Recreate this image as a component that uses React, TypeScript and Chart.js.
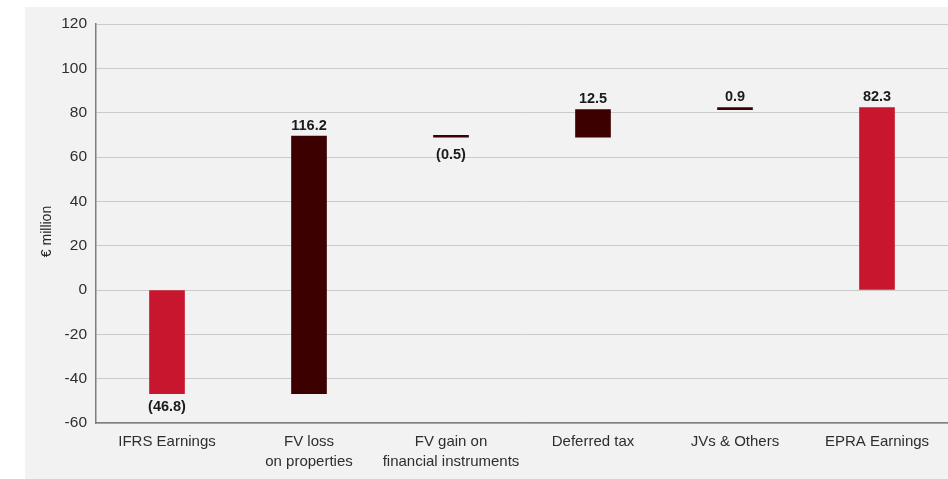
import React, { useEffect, useRef } from "react";
import { Chart, registerables } from "chart.js";

Chart.register(...registerables);

// Bridge from IFRS earnings to EPRA earnings, € million
const categories: (string | string[])[] = [
  "IFRS Earnings",
  ["FV loss", "on properties"],
  ["FV gain on", "financial instruments"],
  "Deferred tax",
  "JVs & Others",
  "EPRA Earnings",
];
const movements: number[] = [-46.8, 116.2, -0.5, 12.5, 0.9, 82.3];
// true = bar drawn from zero (a total), false = step from the running total
const isTotal: boolean[] = [true, false, false, false, false, true];
const yTicks: number[] = [-60, -40, -20, 0, 20, 40, 60, 80, 100, 120];

const RED = "rgb(200,22,46)";
const DARK = "rgb(60,0,0)";
const FONT = "'Liberation Sans', Arial, Helvetica, sans-serif";

function buildRanges(): [number, number][] {
  let running = 0;
  return movements.map((v, i) => {
    if (isTotal[i]) {
      running = v;
      return [0, v];
    }
    const start = running;
    running = Math.round((running + v) * 10) / 10;
    return [start, running];
  });
}

function fmt(v: number): string {
  return v < 0 ? `(${Math.abs(v).toFixed(1)})` : v.toFixed(1);
}

const panelPlugin = {
  id: "panel",
  beforeDraw(chart: any) {
    const { ctx, width, height } = chart;
    ctx.save();
    ctx.fillStyle = "#ffffff";
    ctx.fillRect(0, 0, width, height);
    ctx.fillStyle = "#f2f2f2";
    ctx.fillRect(25, 7, width - 25, height - 7);
    ctx.restore();
  },
  afterDraw(chart: any) {
    const { ctx, chartArea } = chart;
    ctx.save();
    ctx.translate(47, (chartArea.top + chartArea.bottom) / 2 + 8);
    ctx.rotate(-Math.PI / 2);
    ctx.font = `14px ${FONT}`;
    ctx.fillStyle = "#222";
    ctx.textAlign = "center";
    ctx.textBaseline = "middle";
    ctx.fillText("€ million", 0, 0);
    ctx.restore();
  },
};

const valueLabelPlugin = {
  id: "valueLabels",
  afterDatasetsDraw(chart: any) {
    const { ctx } = chart;
    const meta = chart.getDatasetMeta(0);
    ctx.save();
    ctx.font = `bold 14.5px ${FONT}`;
    ctx.fillStyle = "#1a1a1a";
    ctx.textAlign = "center";
    meta.data.forEach((el: any, i: number) => {
      const v = movements[i];
      const top = Math.min(el.y, el.base);
      const bottom = Math.max(el.y, el.base);
      if (v < 0) {
        ctx.textBaseline = "top";
        ctx.fillText(fmt(v), el.x, bottom + (Math.abs(v) < 2 ? 10 : 6));
      } else {
        ctx.textBaseline = "bottom";
        ctx.fillText(fmt(v), el.x, top - 3);
      }
    });
    ctx.restore();
  },
};

export default function App() {
  const canvasRef = useRef<HTMLCanvasElement>(null);

  useEffect(() => {
    document.body.style.margin = "0";
    const canvas = canvasRef.current!;
    const ranges = buildRanges();
    const chart = new Chart(canvas, {
      type: "bar",
      data: {
        labels: categories,
        datasets: [
          {
            data: ranges as any,
            backgroundColor: isTotal.map((t) => (t ? RED : DARK)),
            borderColor: isTotal.map((t) => (t ? RED : DARK)),
            borderWidth: 0,
            borderSkipped: false,
            barThickness: 35,
            minBarLength: 2,
          },
        ],
      },
      options: {
        animation: false,
        responsive: false,
        maintainAspectRatio: false,
        devicePixelRatio: 1,
        layout: { padding: { top: 24, right: 0, left: 0, bottom: 0 } },
        plugins: {
          legend: { display: false },
          tooltip: { enabled: false },
        },
        scales: {
          x: {
            grid: { display: false, drawTicks: false },
            border: { display: true, color: "#7f7f7f", width: 1.5 },
            ticks: {
              color: "#2e2e2e",
              font: { family: FONT, size: 15, lineHeight: 1.33 },
              padding: 9,
              maxRotation: 0,
              autoSkip: false,
            },
            afterFit(scale: any) {
              scale.height = 56;
            },
          },
          y: {
            min: -60,
            max: 120,
            afterBuildTicks(scale: any) {
              scale.ticks = yTicks.map((v) => ({ value: v }));
            },
            grid: { color: "#cbcbcb", lineWidth: 1, drawTicks: false },
            border: { display: true, color: "#7f7f7f", width: 1.5 },
            ticks: {
              color: "#2e2e2e",
              font: { family: FONT, size: 15.5 },
              padding: 9,
            },
            afterFit(scale: any) {
              scale.width = 96;
            },
          },
        },
      },
      plugins: [panelPlugin, valueLabelPlugin],
    });
    return () => chart.destroy();
  }, []);

  return <canvas ref={canvasRef} width={948} height={479} style={{ display: "block" }} />;
}
